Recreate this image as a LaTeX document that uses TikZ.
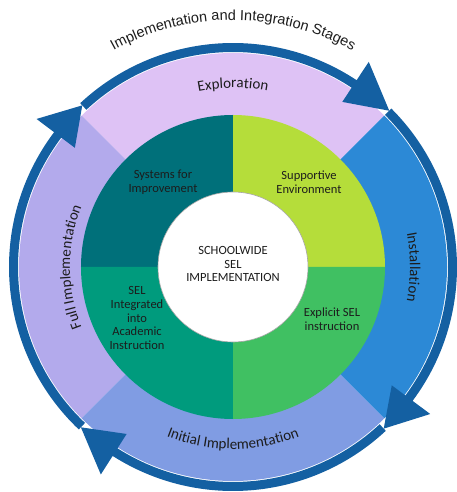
\documentclass[tikz,border=0pt]{standalone}
\usepackage{fontspec}
\setmainfont{Carlito}
\newfontfamily\titlefont{Liberation Sans}
\usetikzlibrary{decorations.text}

\definecolor{explorec}{HTML}{DEC2F5}
\definecolor{installc}{HTML}{2C89D6}
\definecolor{initialc}{HTML}{809CE3}
\definecolor{fullc}{HTML}{B3AAEC}
\definecolor{arrowc}{HTML}{1460A2}
\definecolor{systemsc}{HTML}{00707A}
\definecolor{supportc}{HTML}{B5DD3A}
\definecolor{integratc}{HTML}{009B7D}
\definecolor{explicitc}{HTML}{40C062}
\definecolor{txtc}{HTML}{1C1C1C}

\tikzset{
  quadlabel/.style={align=center, text=txtc, font=\fontsize{12.5}{13.8}\selectfont},
  stagetext/.style={decorate, decoration={text along path, text align=center,
      text={|\color{txtc}\fontsize{15}{16}\selectfont|#1}}},
}

% clockwise block arrow along the stage ring: tail angle, head base angle, tip angle
\newcommand{\ringarrow}[3]{%
  \fill[arrowc] (#1:224) arc[start angle=#1, end angle=#2, radius=224]
    -- (#2:246) -- (#3:221) -- (#2:198) -- (#2:215)
    arc[start angle=#2, end angle=#1, radius=215] -- cycle;}

\begin{document}
\begin{tikzpicture}[x=1pt, y=1pt]
\useasboundingbox (-233,-225) rectangle (223,267);

% stage ring
\fill[explorec]  (0,0) -- (45:214)  arc[start angle=45,  end angle=135, radius=214] -- cycle;
\fill[fullc]     (0,0) -- (135:214) arc[start angle=135, end angle=225, radius=214] -- cycle;
\fill[initialc]  (0,0) -- (225:214) arc[start angle=225, end angle=315, radius=214] -- cycle;
\fill[installc]  (0,0) -- (-45:214) arc[start angle=-45, end angle=45,  radius=214] -- cycle;

% cycle arrows
\ringarrow{133}{56.5}{45}
\ringarrow{45}{-36.7}{-47}
\ringarrow{-47}{-122.5}{-133.5}
\ringarrow{226.5}{143}{133}

% SEL quadrants
\fill[systemsc]  (0,0) -- (90:152)  arc[start angle=90,  end angle=180, radius=152] -- cycle;
\fill[supportc]  (0,0) -- (0:152)   arc[start angle=0,   end angle=90,  radius=152] -- cycle;
\fill[integratc] (0,0) -- (180:152) arc[start angle=180, end angle=270, radius=152] -- cycle;
\fill[explicitc] (0,0) -- (270:152) arc[start angle=270, end angle=360, radius=152] -- cycle;

% centre disc
\node[circle, fill=white, draw=black!35, line width=0.6pt, minimum size=150pt, inner sep=0pt] (hub) at (0,0) {};

% quadrant labels
\node[quadlabel] (center) at (0,3) {SCHOOLWIDE\\SEL\\IMPLEMENTATION};
\node[quadlabel] (systems) at (-70,85) {Systems for\\Improvement};
\node[quadlabel] (support) at (76,85) {Supportive\\Environment};
\node[quadlabel] (integrated) at (-96,-51) {SEL\\Integrated\\into\\Academic\\Instruction};
\node[quadlabel] (explicit) at (99,-52) {Explicit SEL\\instruction};

% stage labels
\path[stagetext={Exploration}] (120:179) arc[start angle=120, end angle=60, radius=179];
\path[stagetext={Installation}] (30:177) arc[start angle=30, end angle=-30, radius=177];
\path[stagetext={Initial Implementation}] (-130:182) arc[start angle=-130, end angle=-50, radius=182];
\path[stagetext={Full Implementation}] (230:163) arc[start angle=230, end angle=130, radius=163];

% title
\path[decorate, decoration={text along path, text align=center,
    text={|\color{txtc}\titlefont\fontsize{14.5}{16}\selectfont|Implementation and Integration Stages}}]
  (125:247) arc[start angle=125, end angle=55, radius=247];
\end{tikzpicture}
\end{document}
